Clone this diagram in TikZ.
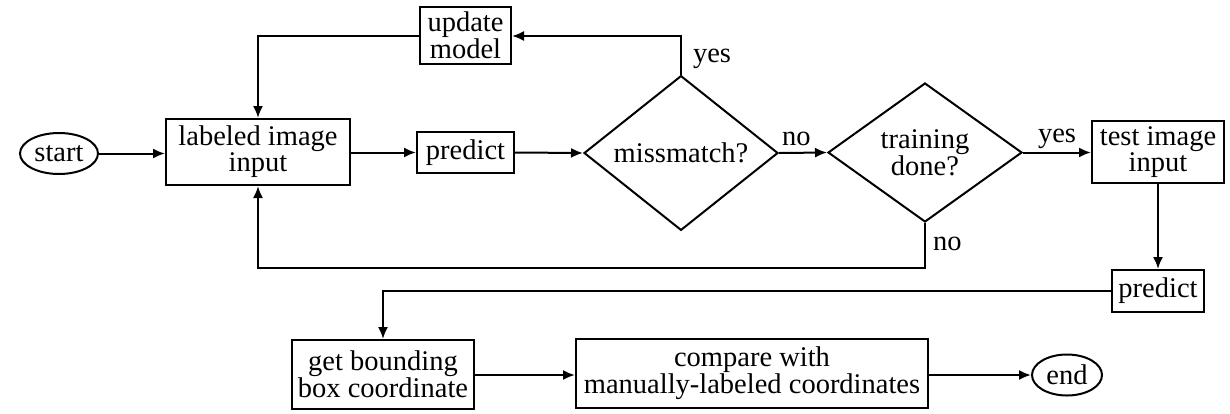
\documentclass[tikz,border=0pt]{standalone}
\usepackage{fontspec}
\setmainfont{Liberation Serif}
\usetikzlibrary{shapes.geometric,arrows.meta}
\begin{document}
\begin{tikzpicture}[x=1pt,y=-1pt,line width=2pt,
  txt/.style={font=\rmfamily\fontsize{28.5}{25}\selectfont},
  box/.style={txt,draw,rectangle,inner sep=0pt,align=center},
  dec/.style={txt,draw,diamond,inner sep=0pt,align=center,minimum width=194pt,minimum height=138pt},
  term/.style={txt,draw,ellipse,inner sep=0pt},
  arr/.style={-{Latex[length=12pt,width=10pt]}},
  lbl/.style={txt,inner sep=0pt,anchor=west}]
\useasboundingbox (0,0) rectangle (1230,413);
\fill[white] (0,0) rectangle (1230,413);
% nodes
\node[term,minimum width=78pt,minimum height=41pt] (start) at (59,153.5) {start};
\node[box,minimum width=184pt,minimum height=66pt] (lab) at (258,152) {labeled image\\input};
\node[box,minimum width=91pt,minimum height=57pt] (upd) at (465.5,35.5) {update\\model};
\node[box,minimum width=97pt,minimum height=41pt] (pred) at (465.5,152.5) {predict};
\node[dec] (mis) at (681,153) {missmatch?};
\node[dec,minimum height=139pt] (tr) at (925,152.5) {training\\done?};
\node[box,minimum width=132pt,minimum height=62pt] (test) at (1158,152) {test image\\input};
\node[box,minimum width=92pt,minimum height=42pt] (pred2) at (1158,291) {predict};
\node[box,minimum width=182pt,minimum height=69pt] (bb) at (383,374.5) {get bounding\\box coordinate};
\node[box,minimum width=352pt,minimum height=69pt] (cmp) at (752,373.5) {compare with\\manually-labeled coordinates};
\node[term,minimum width=70pt,minimum height=41pt] (end) at (1067,375) {end};
% helper coordinates
\coordinate (c1) at (258,36);
\coordinate (c2) at (681,36);
\coordinate (c3) at (925,268);
\coordinate (c4) at (258,268);
\coordinate (c5) at (383,291);
% connectors
\draw[arr] (start.east) -- (lab.west |- start.east);
\draw[arr] (lab.east |- pred.west) -- (pred.west);
\draw[arr] (pred.east) -- (mis.west);
\draw[arr] (mis.east) -- (tr.west);
\draw[arr] (tr.east) -- (test.west |- tr.east);
\draw[arr] (mis.north) -- (c2) -- (upd.east |- c2);
\draw[arr] (upd.west |- c1) -- (c1) -- (lab.north);
\draw[arr] (tr.south) -- (c3) -- (c4) -- (lab.south);
\draw[arr] (test.south) -- (pred2.north);
\draw[arr] (pred2.west) -- (c5) -- (bb.north);
\draw[arr] (bb.east |- end.west) -- (cmp.west |- end.west);
\draw[arr] (cmp.east |- end.west) -- (end.west);
% labels
\node[lbl] (l1) at (692,59) {yes};
\node[lbl] (l2) at (781,139) {no};
\node[lbl] (l3) at (1037,139) {yes};
\node[lbl] (l4) at (932,244) {no};
\end{tikzpicture}
\end{document}
